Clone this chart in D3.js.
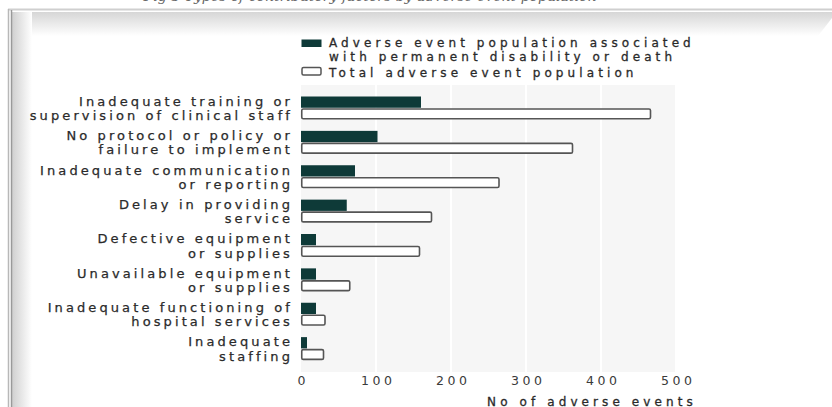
<!DOCTYPE html>
<html>
<head>
<meta charset="utf-8">
<script src="https://cdn.jsdelivr.net/npm/d3@7"></script>
<style>
  html, body { margin: 0; padding: 0; background: #fff; }
  svg { display: block; }
  .lbl { font-family: "DejaVu Sans", sans-serif; font-size: 13px; fill: #2a2a2a; stroke: #2a2a2a; stroke-width: 0.25px; letter-spacing: 3.1px; }
  .leg { font-family: "DejaVu Sans", sans-serif; font-size: 12px; fill: #2a2a2a; stroke: #2a2a2a; stroke-width: 0.3px; letter-spacing: 4.1px; }
  .tick text { font-family: "DejaVu Sans", sans-serif; font-size: 12.5px; fill: #3a3a3a; letter-spacing: 3.5px; }
</style>
</head>
<body>
<script>
// Contributing factors, two lines per label
const categories = [
  ["Inadequate training or", "supervision of clinical staff"],
  ["No protocol or policy or", "failure to implement"],
  ["Inadequate communication", "or reporting"],
  ["Delay in providing", "service"],
  ["Defective equipment", "or supplies"],
  ["Unavailable equipment", "or supplies"],
  ["Inadequate functioning of", "hospital services"],
  ["Inadequate", "staffing"]
];
// Adverse events associated with permanent disability or death
const severeValues = [160, 102, 72, 61, 20, 20, 20, 8];
// Total adverse event population
const totalValues = [467, 363, 265, 175, 159, 66, 33, 31];
const xTicks = [0, 100, 200, 300, 400, 500];
const legendLabels = [
  ["Adverse event population associated", "with permanent disability or death"],
  ["Total adverse event population"]
];
const xAxisTitle = "No of adverse events";
const titleText = "Fig 3 Types of contributory factors by adverse event population";

const W = 832, H = 407;
const darkFill = "#0e3a38";

const svg = d3.select("body").append("svg").attr("width", W).attr("height", H);
const defs = svg.append("defs");

// frame shading
const gTop = defs.append("linearGradient").attr("id", "shTop").attr("x1", 0).attr("y1", 0).attr("x2", 0).attr("y2", 1);
gTop.append("stop").attr("offset", 0).attr("stop-color", "#d6d6d6");
gTop.append("stop").attr("offset", 1).attr("stop-color", "#ffffff");
const gLeft = defs.append("linearGradient").attr("id", "shLeft").attr("x1", 0).attr("y1", 0).attr("x2", 1).attr("y2", 0);
gLeft.append("stop").attr("offset", 0).attr("stop-color", "#d0d0d0");
gLeft.append("stop").attr("offset", 1).attr("stop-color", "#ffffff");

svg.append("text")
  .attr("x", 370).attr("y", 1)
  .attr("text-anchor", "middle")
  .style("font-family", "DejaVu Serif, serif").style("font-style", "italic")
  .style("font-size", "14px").style("fill", "#666")
  .text(titleText);

svg.append("polygon")
  .attr("points", "12,12 832,12 832,18 818,36 30,36 12,12")
  .attr("fill", "url(#shTop)");
svg.append("rect").attr("x", 12).attr("y", 12).attr("width", 20).attr("height", H - 12).attr("fill", "url(#shLeft)");
svg.append("line").attr("x1", 8).attr("x2", W).attr("y1", 9.5).attr("y2", 9.5).attr("stroke", "#cfcfcf").attr("stroke-width", 2);
svg.append("line").attr("x1", 8.5).attr("x2", 8.5).attr("y1", 9).attr("y2", H).attr("stroke", "#b8b8b8").attr("stroke-width", 1.5);
svg.append("line").attr("x1", 11.5).attr("x2", 11.5).attr("y1", 10).attr("y2", H).attr("stroke", "#9a9a9a").attr("stroke-width", 1.5);

// scales
const x = d3.scaleLinear().domain([0, 500]).range([301, 676]);
const y = d3.scaleBand().domain(d3.range(categories.length)).range([91, 366]);
const sub = d3.scaleBand().domain(["severe", "total"]).range([5.5, 28.5]).paddingInner(0.04);

// plot background and grid
svg.append("rect")
  .attr("x", x(0)).attr("y", 85)
  .attr("width", x(500) - x(0)).attr("height", 287)
  .attr("fill", "#f6f6f6");
svg.append("g").selectAll("line")
  .data(xTicks.slice(1))
  .join("line")
  .attr("x1", d => x(d)).attr("x2", d => x(d))
  .attr("y1", 85).attr("y2", 372)
  .attr("stroke", "#ffffff").attr("stroke-width", 2);

// x axis, labels only
const ax = svg.append("g")
  .attr("transform", "translate(0,376)")
  .call(d3.axisBottom(x).tickValues(xTicks).tickSize(0).tickPadding(0).tickFormat(d3.format("d")));
ax.select(".domain").remove();
ax.selectAll(".tick text").attr("dy", "0.71em").attr("dx", "0.14em");

svg.append("text")
  .attr("x", 592).attr("y", 406)
  .attr("text-anchor", "middle")
  .attr("class", "leg")
  .text(xAxisTitle);

// bars
const rows = svg.append("g").selectAll("g")
  .data(categories.map((c, i) => ({ c, i, severe: severeValues[i], total: totalValues[i] })))
  .join("g")
  .attr("transform", d => `translate(0,${y(d.i)})`);

rows.append("rect")
  .attr("x", x(0))
  .attr("y", sub("severe"))
  .attr("width", d => x(d.severe) - x(0))
  .attr("height", sub.bandwidth())
  .attr("fill", darkFill);

rows.append("rect")
  .attr("x", x(0) + 0.75)
  .attr("y", sub("total") + 0.75)
  .attr("width", d => x(d.total) - x(0) - 1.5)
  .attr("height", sub.bandwidth() - 1.5)
  .attr("rx", 1.5)
  .attr("fill", "#ffffff")
  .attr("stroke", "#555")
  .attr("stroke-width", 1.6);

rows.append("text")
  .attr("class", "lbl")
  .attr("text-anchor", "end")
  .selectAll("tspan")
  .data(d => d.c)
  .join("tspan")
  .attr("x", 293)
  .attr("y", (d, j) => 14.8 + j * 14.3)
  .text(d => d);

// legend
const leg = svg.append("g");
leg.append("rect").attr("x", 301.5).attr("y", 39.5).attr("width", 20).attr("height", 7.5).attr("fill", darkFill);
leg.append("rect").attr("x", 302).attr("y", 67.5).attr("width", 19).attr("height", 7.5).attr("rx", 1.5)
  .attr("fill", "#fff").attr("stroke", "#555").attr("stroke-width", 1.5);
leg.append("text").attr("class", "leg").selectAll("tspan")
  .data(legendLabels[0]).join("tspan")
  .attr("x", 329).attr("y", (d, j) => 46.5 + j * 14).text(d => d);
leg.append("text").attr("class", "leg")
  .attr("x", 329).attr("y", 76.5).text(legendLabels[1][0]);
</script>
</body>
</html>
